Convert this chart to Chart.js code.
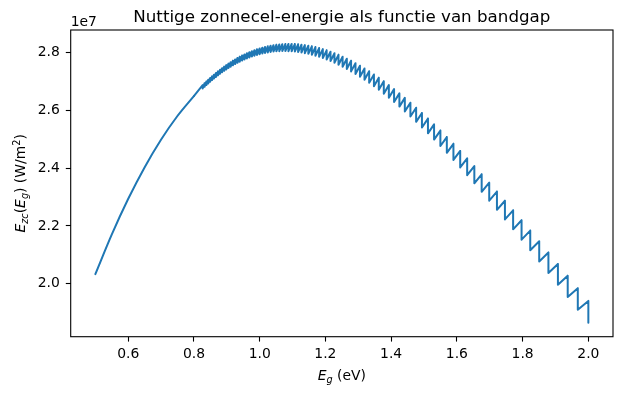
<!DOCTYPE html>
<html>
<head>
<meta charset="utf-8">
<script src="https://cdn.jsdelivr.net/npm/chart.js@4.4.1/dist/chart.umd.min.js"></script>
<style>
  html, body { margin: 0; padding: 0; background: #fff; }
  #wrap { width: 622px; height: 396px; }
</style>
</head>
<body>
<div id="wrap"><canvas id="chart" width="622" height="396"></canvas></div>
<script>
// Values in units of 1e7 W/m^2 (the axis shows the "1e7" offset).
// Left part: the steps are under a pixel, so a plain curve.
const smoothEg  = [0.5, 0.5498, 0.5997, 0.6497, 0.6997, 0.7497, 0.7997];
const smoothVal = [2.0332, 2.1700, 2.2933, 2.4028, 2.4986, 2.5808, 2.6498];

// Right part: each step edge has a value just before (top) and just after (bottom) the drop.
const toothEg = [
  0.8265, 0.8321, 0.8377, 0.8434, 0.8492, 0.8550, 0.8610, 0.8670, 0.8731, 0.8793,
  0.8856, 0.8919, 0.8984, 0.9050, 0.9116, 0.9184, 0.9252, 0.9322, 0.9392, 0.9464,
  0.9537, 0.9611, 0.9686, 0.9762, 0.9840, 0.9918, 0.9998, 1.0080, 1.0162, 1.0246,
  1.0332, 1.0419, 1.0507, 1.0597, 1.0688, 1.0781, 1.0875, 1.0972, 1.1070, 1.1169,
  1.1271, 1.1374, 1.1480, 1.1587, 1.1696, 1.1808, 1.1921, 1.2037, 1.2155, 1.2275,
  1.2398, 1.2523, 1.2651, 1.2781, 1.2915, 1.3051, 1.3189, 1.3331, 1.3476, 1.3624,
  1.3776, 1.3930, 1.4089, 1.4251, 1.4416, 1.4586, 1.4760, 1.4937, 1.5120, 1.5306,
  1.5498, 1.5694, 1.5895, 1.6101, 1.6313, 1.6531, 1.6754, 1.6984, 1.7219, 1.7462,
  1.7711, 1.7968, 1.8232, 1.8505, 1.8785, 1.9074, 1.9372, 1.9679, 2.0000
];
const toothTop = [
  2.6876, 2.6939, 2.7000, 2.7061, 2.7122, 2.7180, 2.7239, 2.7297, 2.7353, 2.7409,
  2.7464, 2.7517, 2.7569, 2.7621, 2.7671, 2.7719, 2.7766, 2.7813, 2.7857, 2.7899,
  2.7940, 2.7980, 2.8018, 2.8052, 2.8086, 2.8117, 2.8147, 2.8174, 2.8199, 2.8222,
  2.8241, 2.8259, 2.8273, 2.8286, 2.8294, 2.8300, 2.8303, 2.8302, 2.8297, 2.8290,
  2.8278, 2.8262, 2.8243, 2.8220, 2.8193, 2.8160, 2.8123, 2.8081, 2.8034, 2.7982,
  2.7925, 2.7862, 2.7793, 2.7718, 2.7637, 2.7549, 2.7455, 2.7354, 2.7246, 2.7131,
  2.7008, 2.6877, 2.6738, 2.6591, 2.6435, 2.6268, 2.6096, 2.5912, 2.5719, 2.5516,
  2.5303, 2.5079, 2.4844, 2.4598, 2.4340, 2.4071, 2.3790, 2.3498, 2.3191, 2.2873,
  2.2542, 2.2197, 2.1839, 2.1468, 2.1083, 2.0684, 2.0272, 1.9846, 1.9405
];
const toothBottom = [
  2.6759, 2.6819, 2.6879, 2.6937, 2.6994, 2.7052, 2.7108, 2.7162, 2.7216, 2.7270,
  2.7322, 2.7372, 2.7422, 2.7470, 2.7516, 2.7561, 2.7605, 2.7648, 2.7689, 2.7727,
  2.7765, 2.7801, 2.7835, 2.7867, 2.7895, 2.7923, 2.7948, 2.7971, 2.7992, 2.8009,
  2.8025, 2.8038, 2.8047, 2.8053, 2.8057, 2.8057, 2.8054, 2.8049, 2.8039, 2.8025,
  2.8007, 2.7985, 2.7960, 2.7929, 2.7895, 2.7857, 2.7813, 2.7763, 2.7709, 2.7650,
  2.7585, 2.7513, 2.7437, 2.7353, 2.7264, 2.7168, 2.7065, 2.6955, 2.6838, 2.6713,
  2.6581, 2.6439, 2.6290, 2.6133, 2.5967, 2.5790, 2.5606, 2.5411, 2.5207, 2.4992,
  2.4768, 2.4532, 2.4285, 2.4027, 2.3757, 2.3476, 2.3183, 2.2876, 2.2558, 2.2227,
  2.1883, 2.1526, 2.1156, 2.0772, 2.0374, 1.9963, 1.9539, 1.9100, 1.8648
];

const xTicks = [0.6, 0.8, 1.0, 1.2, 1.4, 1.6, 1.8, 2.0];
const xTickLabels = ['0.6', '0.8', '1.0', '1.2', '1.4', '1.6', '1.8', '2.0'];
const yTicks = [2.0, 2.2, 2.4, 2.6, 2.8];
const yTickLabels = ['2.0', '2.2', '2.4', '2.6', '2.8'];

const FONT = "'DejaVu Sans'";
const BLUE = '#1f77b4';

const smoothPoints = smoothEg.map((x, i) => ({ x, y: smoothVal[i] }));
// the stepped line picks up where the smooth one ends
const stepPoints = [smoothPoints[smoothPoints.length - 1]];
toothEg.forEach((x, i) => {
  stepPoints.push({ x, y: toothTop[i] });
  stepPoints.push({ x, y: toothBottom[i] });
});

// draw a row of text pieces (mathtext-like) centred on cx, baseline at by
function drawRuns(ctx, runs, cx, by) {
  const fontOf = r => (r.it ? 'italic ' : '') + r.size + 'px ' + FONT;
  let total = 0;
  runs.forEach(r => { ctx.font = fontOf(r); r.w = ctx.measureText(r.t).width; total += r.w; });
  let x = cx - total / 2;
  ctx.textAlign = 'left';
  ctx.textBaseline = 'alphabetic';
  runs.forEach(r => {
    ctx.font = fontOf(r);
    ctx.fillText(r.t, x, by + (r.dy || 0));
    x += r.w;
  });
}

const frameAndText = {
  id: 'frameAndText',
  afterDraw(chart) {
    const { ctx, chartArea: a } = chart;
    ctx.save();
    ctx.strokeStyle = '#000';
    ctx.lineWidth = 1.1;
    ctx.strokeRect(a.left, a.top, a.right - a.left, a.bottom - a.top);
    ctx.fillStyle = '#000';

    ctx.font = '16.7px ' + FONT;
    ctx.textAlign = 'center';
    ctx.textBaseline = 'alphabetic';
    ctx.fillText('Nuttige zonnecel-energie als functie van bandgap', (a.left + a.right) / 2, 21.5);

    ctx.font = '13.9px ' + FONT;
    ctx.textAlign = 'left';
    ctx.fillText('1e7', a.left, 26);

    drawRuns(ctx, [
      { t: 'E', it: true, size: 13.9 },
      { t: 'g', it: true, size: 9.7, dy: 3 },
      { t: ' (eV)', size: 13.9 }
    ], (a.left + a.right) / 2, 380);

    ctx.translate(25, (a.top + a.bottom) / 2);
    ctx.rotate(-Math.PI / 2);
    drawRuns(ctx, [
      { t: 'E', it: true, size: 13.9 },
      { t: 'zc', it: true, size: 9.7, dy: 3 },
      { t: '(', size: 13.9 },
      { t: 'E', it: true, size: 13.9 },
      { t: 'g', it: true, size: 9.7, dy: 3 },
      { t: ') (W/m', size: 13.9 },
      { t: '2', size: 9.7, dy: -5.5 },
      { t: ')', size: 13.9 }
    ], 0, 0);
    ctx.restore();
  }
};

const tickFont = { family: FONT, size: 13.9 };
const lineStyle = {
  showLine: true,
  borderColor: BLUE,
  borderWidth: 2,
  borderJoinStyle: 'round',
  borderCapStyle: 'round',
  pointRadius: 0,
  fill: false
};

new Chart(document.getElementById('chart'), {
  type: 'scatter',
  data: {
    datasets: [
      Object.assign({ data: smoothPoints, cubicInterpolationMode: 'monotone' }, lineStyle),
      Object.assign({ data: stepPoints, tension: 0 }, lineStyle)
    ]
  },
  options: {
    responsive: false,
    animation: false,
    devicePixelRatio: 1,
    layout: { padding: { left: 0, top: 30, right: 9, bottom: 0 } },
    plugins: { legend: { display: false }, tooltip: { enabled: false } },
    scales: {
      x: {
        type: 'linear',
        min: 0.425,
        max: 2.075,
        afterBuildTicks: s => { s.ticks = xTicks.map(v => ({ value: v })); },
        afterFit: s => { s.height = 59.3; },
        border: { display: false },
        grid: { drawOnChartArea: false, drawTicks: true, tickLength: 4.9, tickColor: '#000', tickWidth: 1.1 },
        ticks: {
          autoSkip: false, maxRotation: 0, padding: 4.3, color: '#000', font: tickFont,
          callback: (v, i) => xTickLabels[i]
        }
      },
      y: {
        type: 'linear',
        min: 1.8165,
        max: 2.8786,
        afterBuildTicks: s => { s.ticks = yTicks.map(v => ({ value: v })); },
        afterFit: s => { s.width = 70.7; },
        border: { display: false },
        grid: { drawOnChartArea: false, drawTicks: true, tickLength: 4.9, tickColor: '#000', tickWidth: 1.1 },
        ticks: {
          autoSkip: false, padding: 6, color: '#000', font: tickFont,
          callback: (v, i) => yTickLabels[i]
        }
      }
    }
  },
  plugins: [frameAndText]
});
</script>
</body>
</html>
